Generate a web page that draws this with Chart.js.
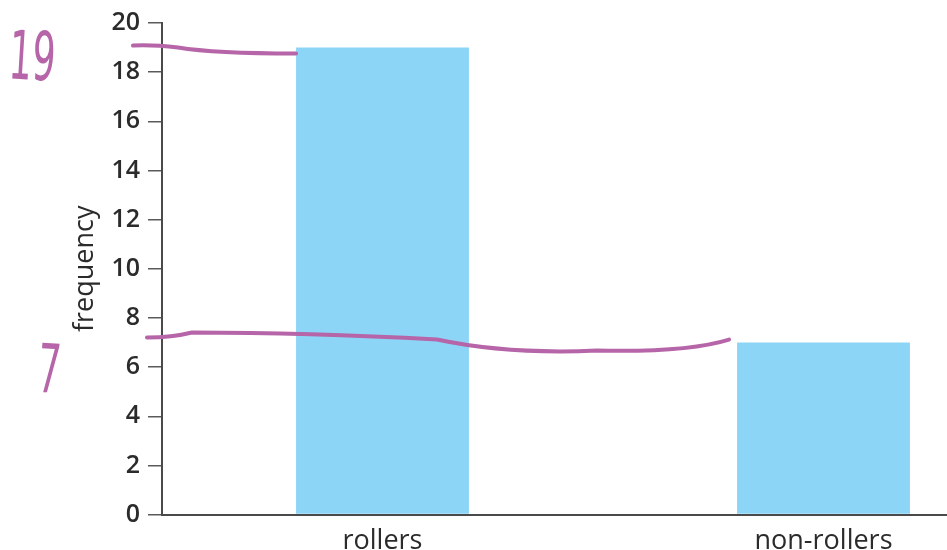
<!DOCTYPE html>
<html>
<head>
<meta charset="utf-8">
<title>rollers vs non-rollers</title>
<script src="https://cdn.jsdelivr.net/npm/chart.js@4/dist/chart.umd.min.js"></script>
<style>
    html, body { margin: 0; padding: 0; background: #fff; overflow: hidden; }
    body { width: 947px; height: 550px; }
    .wrap { position: relative; width: 1046px; height: 562px; }
</style>
</head>
<body>
<div class="wrap"><canvas id="freqChart"></canvas></div>
<script>
// Data
const categories = ['rollers', 'non-rollers'];
const frequency = [19, 7];
const yTicks = [0, 2, 4, 6, 8, 10, 12, 14, 16, 18, 20];

// Pen notes written over the chart: value marked, plus the number written beside the axis
const penNotes = [
    { value: 19, text: '19', barIndex: 0 },
    { value: 7, text: '7', barIndex: 1 }
];

const AXIS_COLOR = '#4a4a4a';
const TEXT_COLOR = '#2b2b2b';
const BAR_COLOR = '#8dd5f6';
const PEN_COLOR = '#b565a8';

// Hand-drawn style lines from the y axis over to each bar
const penPlugin = {
    id: 'penNotes',
    afterDraw(chart) {
        const ctx = chart.ctx;
        const y = chart.scales.y;
        const area = chart.chartArea;
        const bars = chart.getDatasetMeta(0).data;
        ctx.save();
        ctx.strokeStyle = PEN_COLOR;
        ctx.fillStyle = PEN_COLOR;
        ctx.lineWidth = 4;
        ctx.lineCap = 'round';
        ctx.lineJoin = 'round';

        penNotes.forEach((note, i) => {
            const py = y.getPixelForValue(note.value);
            const bar = bars[note.barIndex];
            const x0 = area.left - 29 + (i === 1 ? 14 : 0);
            const x1 = bar.x - bar.width / 2 - (i === 1 ? 8 : 0);
            ctx.beginPath();
            if (i === 0) {
                ctx.moveTo(x0, py - 2);
                ctx.quadraticCurveTo(x0 + 20, py - 3, x0 + 45, py);
                ctx.quadraticCurveTo((x0 + x1) / 2, py + 6, x1, py + 6);
            } else {
                ctx.moveTo(x0, py - 5);
                ctx.quadraticCurveTo(x0 + 25, py - 5, x0 + 45, py - 10);
                ctx.quadraticCurveTo(x0 + 160, py - 10, x0 + 290, py - 3);
                ctx.quadraticCurveTo(x0 + 360, py + 12, x0 + 450, py + 8);
                ctx.quadraticCurveTo(x0 + 540, py + 10, x1, py - 3);
            }
            ctx.stroke();

            // the handwritten figure
            ctx.font = '52px "DejaVu Sans"';
            ctx.textAlign = 'center';
            ctx.textBaseline = 'alphabetic';
            const tx = i === 0 ? area.left - 131 : area.left - 114;
            const ty = i === 0 ? py + 32 : py + 50;
            ctx.save();
            ctx.translate(tx, ty);
            ctx.rotate(0.06);
            ctx.scale(0.7, 1.3);
            ctx.fillText(note.text, 0, 0);
            ctx.restore();
        });
        ctx.restore();
    }
};

const ctx = document.getElementById('freqChart').getContext('2d');

new Chart(ctx, {
    type: 'bar',
    data: {
        labels: categories,
        datasets: [{
            label: 'frequency',
            data: frequency,
            backgroundColor: BAR_COLOR,
            borderWidth: 0,
            categoryPercentage: 1,
            barPercentage: 0.392
        }]
    },
    options: {
        responsive: true,
        maintainAspectRatio: false,
        animation: false,
        layout: {
            padding: { left: 67, top: 21, right: 2, bottom: 1 }
        },
        plugins: {
            legend: { display: false },
            tooltip: { enabled: false }
        },
        scales: {
            x: {
                grid: { display: false },
                border: { display: true, color: AXIS_COLOR, width: 2 },
                ticks: {
                    color: TEXT_COLOR,
                    padding: 3,
                    font: { family: '"Open Sans"', size: 27, lineHeight: 1.2 }
                }
            },
            y: {
                min: 0,
                max: 20,
                afterBuildTicks: axis => {
                    axis.ticks = yTicks.map(v => ({ value: v }));
                },
                grid: {
                    drawOnChartArea: false,
                    drawTicks: true,
                    tickLength: 14,
                    color: '#5a5a5a',
                    lineWidth: 1.5
                },
                border: { display: true, color: AXIS_COLOR, width: 2 },
                ticks: {
                    color: TEXT_COLOR,
                    padding: 8,
                    font: { family: '"Open Sans"', size: 25, weight: '600' }
                },
                title: {
                    display: true,
                    text: 'frequency',
                    color: TEXT_COLOR,
                    padding: { top: 2, bottom: 2 },
                    font: { family: '"Open Sans"', size: 27, lineHeight: 1.2 }
                }
            }
        }
    },
    plugins: [penPlugin]
});
</script>
</body>
</html>
